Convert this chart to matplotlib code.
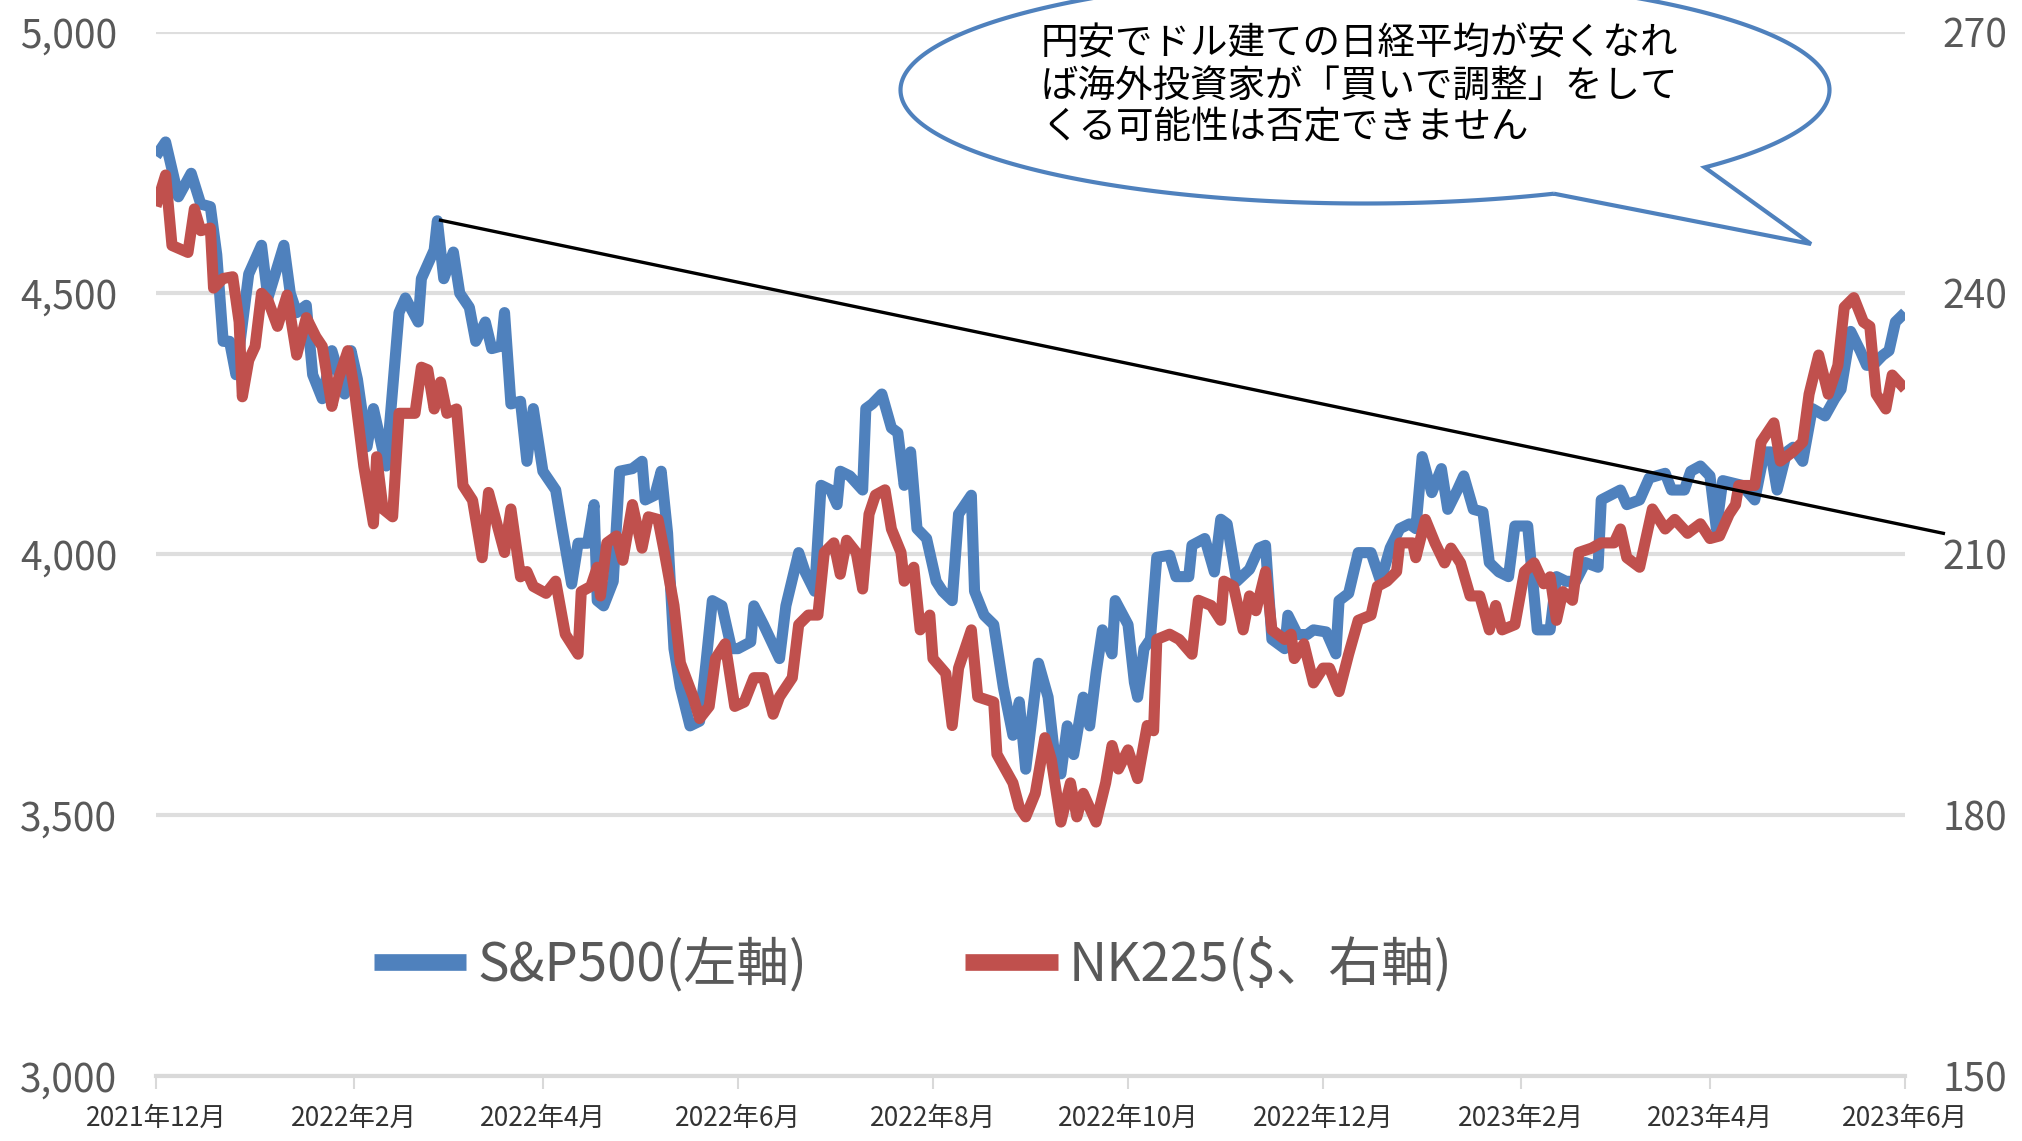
import numpy as np
import pandas as pd
import matplotlib
matplotlib.use("Agg")
import matplotlib.pyplot as plt
from matplotlib import font_manager
from matplotlib.path import Path
from matplotlib.patches import PathPatch

start = pd.Timestamp("2021-12-01")
end = pd.Timestamp("2023-06-01")

# S&P500 (left axis), days counted from 2021-12-01
sp_day = [0, 3, 7, 11, 14, 17, 19, 21, 23, 25, 29, 33, 35, 40, 42, 44, 47, 49, 52, 55, 59, 61, 63, 66, 68, 72, 76, 78, 82, 83, 87, 88, 90,
          93, 95, 98, 100, 103, 105, 108, 109, 111, 114, 116, 118, 121, 125, 127, 130, 132, 135, 137, 138, 140, 143, 145, 149, 152, 153, 156, 158, 160, 162, 164, 167, 170, 172, 174, 177, 180,
          182, 186, 187, 190, 195, 197, 201, 203, 206, 208, 211, 213, 214, 217, 221, 222, 224, 227, 230, 232, 234, 236, 238, 241, 244, 246, 249, 251, 255, 256, 259, 262, 265, 268, 270, 272,
          276, 279, 281, 283, 285, 287, 290, 292, 294, 296, 299, 300, 304, 306, 307, 309, 311, 313, 317, 319, 323, 324, 328, 331, 333, 335, 338, 342, 345, 347, 349, 353, 354, 357, 360, 362,
          366, 369, 370, 373, 376, 380, 383, 386, 389, 392, 394, 396, 399, 402, 404, 407, 409, 412, 415, 417, 420, 423, 425, 429, 432, 436, 438, 441, 444, 447, 451, 452,
          458, 460, 464, 467, 472, 474, 478, 480, 483, 486, 488, 490, 496, 500, 503, 505, 507, 510, 512, 515, 518, 522, 525, 527, 530, 533, 535, 537, 540, 542, 544, 547]
sp_val = [4763, 4790, 4685, 4730, 4671, 4666, 4574, 4408, 4408, 4344, 4537, 4592, 4491, 4592, 4500, 4463, 4477, 4344, 4298, 4390, 4307, 4390, 4335, 4206, 4279, 4169, 4463, 4491, 4445, 4528, 4583, 4639, 4528,
          4579, 4500, 4473, 4408, 4445, 4394, 4399, 4463, 4288, 4293, 4178, 4279, 4159, 4123, 4049, 3943, 4021, 4021, 4095, 3911, 3901, 3948, 4159, 4164, 4178, 4104, 4113, 4159, 4040, 3819, 3745, 3671, 3680, 3791, 3911, 3901, 3819,
          3819, 3832, 3901, 3865, 3800, 3901, 4003, 3966, 3929, 4132, 4123, 4095, 4159, 4150, 4123, 4279, 4288, 4307, 4242, 4233, 4132, 4196, 4049, 4030, 3948, 3929, 3911, 4077, 4113, 3929, 3883, 3865, 3745, 3653, 3717, 3588,
          3791, 3726, 3616, 3579, 3671, 3616, 3726, 3671, 3772, 3855, 3809, 3911, 3865, 3754, 3726, 3819, 3837, 3994, 3998, 3957, 3957, 4017, 4030, 3966, 4067, 4058, 3948, 3971, 4012, 4017, 3837, 3819, 3883, 3846, 3846, 3855,
          3851, 3809, 3911, 3925, 4003, 4003, 3948, 4012, 4049, 4058, 4049, 4187, 4118, 4164, 4086, 4123, 4150, 4086, 4081, 3984, 3966, 3957, 4054, 4054, 3855, 3855, 3957, 3948, 3948, 3984, 3975, 4104,
          4123, 4095, 4104, 4146, 4155, 4123, 4123, 4159, 4169, 4150, 4049, 4141, 4132, 4104, 4196, 4196, 4123, 4196, 4205, 4178, 4279, 4265, 4298, 4316, 4427, 4390, 4362, 4362, 4381, 4390, 4445, 4463]

# NK225 in dollars (right axis)
nk_day = [0, 3, 5, 10, 12, 14, 17, 18, 21, 24, 26, 27, 29, 31, 33, 35, 38, 41, 44, 47, 50, 52, 55, 57, 60, 62, 65, 68, 69, 71, 74, 76, 81, 83, 85, 87, 89, 91,
          94, 96, 99, 102, 104, 109, 111, 114, 116, 118, 122, 125, 128, 132, 133, 136, 138, 139, 141, 144, 146, 149, 152, 154, 157, 159, 162, 164, 168, 170, 173, 175, 178, 181,
          184, 187, 190, 193, 195, 199, 201, 204, 207, 209, 212, 214, 216, 219, 221, 223, 225, 228, 230, 233, 234, 237, 239, 242, 243, 247, 249, 251, 255, 257, 262, 263, 268, 270, 272,
          275, 278, 280, 283, 286, 288, 290, 294, 297, 299, 301, 304, 307, 310, 312, 313, 317, 320, 324, 326, 330, 333, 334, 337, 340, 342, 344, 347, 349, 353, 355, 356, 359, 362,
          365, 367, 370, 373, 376, 380, 382, 385, 388, 389, 393, 394, 397, 400, 403, 405, 408, 411, 414, 417, 419, 421, 425, 428, 431, 434, 436, 438, 440, 443, 445, 449, 452,
          456, 458, 460, 464, 468, 472, 475, 479, 483, 486, 489, 492, 494, 495, 500, 502, 506, 508, 512, 515, 517, 520, 523, 526, 528, 531, 534, 536, 538, 541, 543, 547]
nk_val = [250.0, 253.6, 245.5, 244.7, 249.7, 247.2, 247.5, 240.6, 241.7, 241.9, 236.7, 228.1, 232.3, 233.9, 240.0, 239.2, 236.2, 239.8, 232.9, 237.2, 235.0, 233.9, 227.0, 230.1, 233.4, 229.0, 220.1, 213.5, 221.2, 215.2, 214.3, 226.2, 226.2, 231.5, 231.2, 226.7, 229.8, 226.2,
          226.7, 217.9, 216.2, 209.6, 217.1, 210.2, 215.2, 207.4, 208.0, 206.3, 205.5, 206.9, 200.8, 198.5, 205.7, 206.3, 208.5, 205.2, 211.3, 212.1, 209.3, 215.7, 210.7, 214.3, 214.0, 210.2, 204.1, 197.5, 193.6, 191.1, 192.5, 198.0, 199.7, 192.5,
          193.0, 195.8, 195.8, 191.6, 193.6, 195.8, 201.9, 203.0, 203.0, 210.2, 211.3, 207.7, 211.6, 210.2, 206.0, 214.6, 216.8, 217.4, 212.9, 210.2, 206.9, 208.5, 201.3, 203.0, 198.0, 196.3, 190.3, 196.9, 201.3, 193.6, 193.0, 187.0, 183.7, 180.9, 179.8,
          182.5, 188.9, 186.4, 179.2, 183.7, 179.8, 182.5, 179.2, 183.7, 188.0, 185.3, 187.5, 184.2, 190.3, 189.7, 200.2, 200.8, 200.2, 198.5, 204.7, 204.1, 202.4, 206.9, 206.3, 201.3, 205.2, 203.5, 208.0, 201.3, 200.2, 200.8, 198.0, 199.7, 195.2,
          196.9, 196.9, 194.2, 198.5, 202.4, 203.0, 206.3, 206.9, 208.0, 211.3, 211.3, 209.6, 214.0, 211.3, 209.0, 210.7, 209.0, 205.2, 205.2, 201.3, 204.1, 201.3, 201.9, 208.0, 209.0, 206.6, 207.4, 202.4, 205.7, 204.7, 210.2, 210.7, 211.3,
          211.3, 212.9, 209.6, 208.5, 215.2, 212.9, 214.0, 212.4, 213.5, 211.8, 212.1, 214.6, 215.7, 217.9, 217.9, 222.9, 225.1, 220.7, 221.8, 222.9, 228.4, 232.9, 228.4, 231.7, 238.4, 239.5, 236.7, 236.2, 228.4, 226.7, 230.6, 229.0]

# resistance line drawn on the S&P500 scale
trend_day = [89, 559]
trend_val = [4640, 4040]

left_ticks = [3000, 3500, 4000, 4500, 5000]
right_ticks = [150, 180, 210, 240, 270]
tick_dates = pd.date_range(start, end, freq="2MS")
tick_labels = [f"{d.year}年{d.month}月" for d in tick_dates]

series_labels = ["S&P500(左軸)", "NK225($、右軸)"]
note = "円安でドル建ての日経平均が安くなれ\nば海外投資家が「買いで調整」をして\nくる可能性は否定できません"

blue = "#4F81BD"
red = "#C0504D"
grid_c = "#d9d9d9"

jp = "Noto Sans CJK JP"
plt.rcParams["font.family"] = [jp, "DejaVu Sans"]
installed = {f.name for f in font_manager.fontManager.ttflist}
if "Liberation Sans Narrow" in installed:
    num_font, num_size = "Liberation Sans Narrow", 32
else:
    num_font, num_size = jp, 28

W, H = 2022, 1141
fig = plt.figure(figsize=(W / 100, H / 100), dpi=100)
ax = fig.add_axes([156 / W, 1 - 1076 / H, (1905 - 156) / W, (1076 - 32.4) / H])
ax2 = ax.twinx()

sp_x = start + pd.to_timedelta(sp_day, unit="D")
nk_x = start + pd.to_timedelta(nk_day, unit="D")
tr_x = start + pd.to_timedelta(trend_day, unit="D")

l1, = ax.plot(sp_x, sp_val, color=blue, lw=8, solid_joinstyle="round", solid_capstyle="butt")
l2, = ax2.plot(nk_x, nk_val, color=red, lw=8, solid_joinstyle="round", solid_capstyle="butt")
ax2.plot(tr_x, trend_val, color="black", lw=2.4, transform=ax.transData, clip_on=False, zorder=5)

ax.set_xlim(start, end)
ax.set_ylim(3000, 5000)
ax2.set_ylim(150, 270)

ax.set_yticks(left_ticks)
ax.set_yticklabels([f"{v:,}" for v in left_ticks])
ax2.set_yticks(right_ticks)
ax2.set_yticklabels([str(v) for v in right_ticks])
ax.set_xticks(tick_dates)
ax.set_xticklabels(tick_labels)

ax.yaxis.grid(True, color="#dedede", lw=3)
ax.set_axisbelow(True)
for a in (ax, ax2):
    for s in ("top", "left", "right"):
        a.spines[s].set_visible(False)
ax2.spines["bottom"].set_visible(False)
ax.spines["bottom"].set_color(grid_c)
ax.spines["bottom"].set_linewidth(3)

ax.tick_params(axis="x", length=9, width=1.5, color=grid_c, pad=12, labelsize=19, labelcolor="#333333")
ax.tick_params(axis="y", length=0, pad=28, labelcolor="#595959")
ax2.tick_params(axis="y", length=0, pad=27, labelcolor="#595959")
for lab in ax.get_yticklabels() + ax2.get_yticklabels():
    lab.set_fontfamily(num_font)
    lab.set_fontsize(num_size)

# speech bubble
cx, cy, ea, eb = 1365, 90, 464.5, 113.5
th = np.radians(np.linspace(66, 403, 300))
bx = cx + ea * np.cos(th)
by = cy + eb * np.sin(th)
pts = list(zip(bx, by)) + [(1811, 244), (bx[0], by[0])]
pts = [(x / W, 1 - y / H) for x, y in pts]
bubble = PathPatch(Path(pts, closed=False), transform=fig.transFigure, facecolor="white",
                   edgecolor=blue, lw=3, zorder=10, joinstyle="miter")
fig.add_artist(bubble)
fig.text(1041 / W, 1 - 86 / H, note, fontsize=27, ha="left", va="center", linespacing=1.1, zorder=11)

leg = fig.legend([l1, l2], series_labels, loc="center", bbox_to_anchor=(913 / W, 1 - 965 / H), ncol=2,
                 frameon=False, fontsize=38, handlelength=1.75, handletextpad=0.2, columnspacing=3.0,
                 labelcolor="#595959")
for h in leg.legend_handles:
    h.set_linewidth(12)

fig.savefig("out.png", dpi=100)
